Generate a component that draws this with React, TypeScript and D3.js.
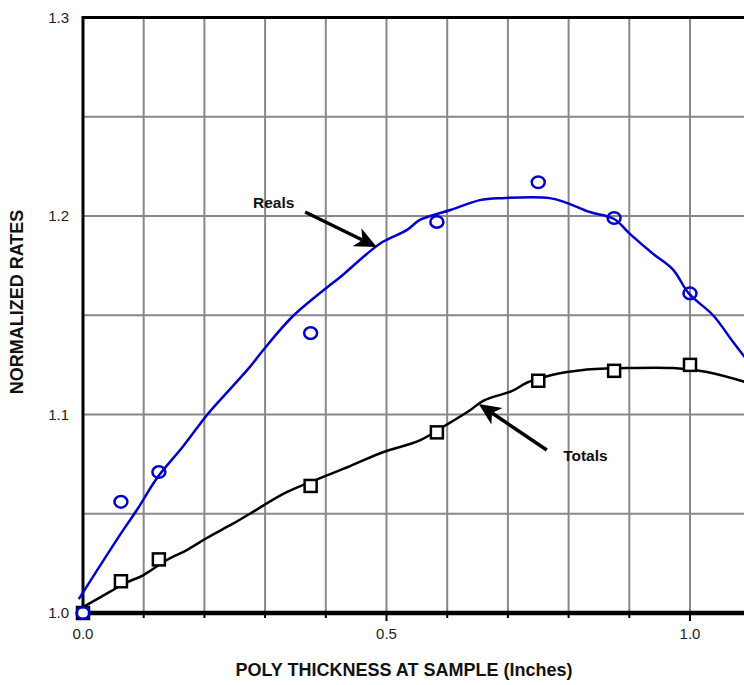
import React from "react";
import * as d3 from "d3";

const realsX = [0, 0.0625, 0.125, 0.375, 0.583, 0.75, 0.875, 1.0];
const realsY = [1.0, 1.056, 1.071, 1.141, 1.197, 1.217, 1.199, 1.161];
const totalsX = [0, 0.0625, 0.125, 0.375, 0.583, 0.75, 0.875, 1.0];
const totalsY = [1.0, 1.016, 1.027, 1.064, 1.091, 1.117, 1.122, 1.125];

const realsFitX = [-0.007, 0.058, 0.089, 0.122, 0.165, 0.205, 0.24, 0.275, 0.297, 0.344, 0.402, 0.423, 0.468, 0.494, 0.534, 0.555, 0.605, 0.654, 0.69, 0.769, 0.797, 0.835, 0.875, 0.901, 0.939, 0.972, 0.998, 1.038, 1.071, 1.095];
const realsFitY = [1.007, 1.038, 1.052, 1.068, 1.084, 1.1, 1.112, 1.124, 1.1325, 1.149, 1.164, 1.169, 1.181, 1.187, 1.193, 1.198, 1.203, 1.208, 1.209, 1.209, 1.2066, 1.202, 1.1985, 1.191, 1.181, 1.173, 1.161, 1.15, 1.1365, 1.127];
const totalsFitX = [0, 0.044, 0.069, 0.099, 0.138, 0.171, 0.204, 0.247, 0.275, 0.33, 0.375, 0.44, 0.494, 0.555, 0.6, 0.637, 0.66, 0.708, 0.731, 0.774, 0.824, 0.901, 0.972, 1.028, 1.095];
const totalsFitY = [1.003, 1.0106, 1.015, 1.019, 1.0267, 1.0317, 1.0378, 1.045, 1.05, 1.06, 1.066, 1.074, 1.081, 1.087, 1.095, 1.102, 1.107, 1.112, 1.116, 1.12, 1.1224, 1.1234, 1.1234, 1.1214, 1.116];

const xTickVals = [0, 0.5, 1.0];
const xTickLabels = ["0.0", "0.5", "1.0"];
const yTickVals = [1.0, 1.1, 1.2, 1.3];
const yTickLabels = ["1.0", "1.1", "1.2", "1.3"];
const xGrid = [0.1, 0.2, 0.3, 0.4, 0.5, 0.6, 0.7, 0.8, 0.9, 1.0];
const yGrid = [1.05, 1.1, 1.15, 1.2, 1.25];

const W = 744, H = 685;
const FONT = "'Liberation Sans', Arial, sans-serif";
const BLUE = "#0000cc";

export default function App() {
  const x = d3.scaleLinear().domain([0, 1]).range([83, 690]);
  const y = d3.scaleLinear().domain([1.0, 1.3]).range([613, 17.5]);
  const line = d3
    .line<[number, number]>()
    .x((d) => x(d[0]))
    .y((d) => y(d[1]))
    .curve(d3.curveCatmullRom.alpha(0.5));
  const realsPath = line(realsFitX.map((v, i) => [v, realsFitY[i]]) as [number, number][]) || "";
  const totalsPath = line(totalsFitX.map((v, i) => [v, totalsFitY[i]]) as [number, number][]) || "";

  const arrow = (x1: number, y1: number, x2: number, y2: number) => {
    const ax1 = x(x1), ay1 = y(y1), ax2 = x(x2), ay2 = y(y2);
    const ang = Math.atan2(ay2 - ay1, ax2 - ax1);
    const L = 22, Wd = 10;
    const bx = ax2 - L * Math.cos(ang), by = ay2 - L * Math.sin(ang);
    const px = -Math.sin(ang) * Wd, py = Math.cos(ang) * Wd;
    const nx = ax2 - (L - 6) * Math.cos(ang), ny = ay2 - (L - 6) * Math.sin(ang);
    return (
      <g>
        <line x1={ax1} y1={ay1} x2={nx} y2={ny} stroke="#000" strokeWidth={3.5} />
        <polygon
          points={`${ax2},${ay2} ${bx + px},${by + py} ${nx},${ny} ${bx - px},${by - py}`}
          fill="#000"
        />
      </g>
    );
  };

  return (
    <svg width={W} height={H} style={{ position: "absolute", left: 0, top: 0, background: "#fff" }} fontFamily={FONT}>
      <rect x={0} y={0} width={W} height={H} fill="#fff" />
      {xGrid.map((g) => (
        <line key={"xg" + g} x1={x(g)} x2={x(g)} y1={y(1.3)} y2={y(1.0)} stroke="#888" strokeWidth={2} />
      ))}
      {yGrid.map((g) => (
        <line key={"yg" + g} x1={x(0)} x2={W} y1={y(g)} y2={y(g)} stroke="#888" strokeWidth={2} />
      ))}
      {xGrid.map((g) => (
        <line key={"xt" + g} x1={x(g)} x2={x(g)} y1={y(1.0)} y2={y(1.0) + (g === 1.0 || g === 0.5 ? 8 : 5)} stroke="#000" strokeWidth={2} />
      ))}
      <line x1={x(0)} x2={W} y1={y(1.3)} y2={y(1.3)} stroke="#000" strokeWidth={3} />
      <line x1={x(0)} x2={x(0)} y1={y(1.3) - 1.5} y2={y(1.0) + 2} stroke="#000" strokeWidth={3} />
      <line x1={x(0)} x2={W} y1={y(1.0)} y2={y(1.0)} stroke="#000" strokeWidth={4.5} />
      {yTickVals.map((v, i) => (
        <text key={"yl" + v} x={69} y={y(v) + 5} textAnchor="end" fontSize={15} fill="#222">
          {yTickLabels[i]}
        </text>
      ))}
      {xTickVals.map((v, i) => (
        <text key={"xl" + v} x={x(v)} y={639} textAnchor="middle" fontSize={15} fill="#222">
          {xTickLabels[i]}
        </text>
      ))}
      <text x={404} y={676} textAnchor="middle" fontSize={18} fontWeight="bold" fill="#111">
        POLY THICKNESS AT SAMPLE (Inches)
      </text>
      <text
        transform={`translate(23,302) rotate(-90)`}
        textAnchor="middle"
        fontSize={18}
        fontWeight="bold"
        fill="#111"
      >
        NORMALIZED RATES
      </text>
      <path d={realsPath} fill="none" stroke={BLUE} strokeWidth={2.5} />
      <path d={totalsPath} fill="none" stroke="#000" strokeWidth={2.5} />
      {totalsX.map((v, i) => (
        <rect key={"sq" + i} x={x(v) - 6} y={y(totalsY[i]) - 6} width={12} height={12} fill="#fff" stroke="#000" strokeWidth={2.5} />
      ))}
      {realsX.map((v, i) => (
        <ellipse key={"c" + i} cx={x(v)} cy={y(realsY[i])} rx={6.5} ry={5.8} fill="none" stroke={BLUE} strokeWidth={2.5} />
      ))}
      <text x={x(0.28)} y={y(1.204)} fontSize={15.5} fontWeight="bold" fill="#111">Reals</text>
      {arrow(0.366, 1.202, 0.484, 1.1844)}
      <text x={x(0.791)} y={y(1.0766)} fontSize={15.5} fontWeight="bold" fill="#111">Totals</text>
      {arrow(0.764, 1.0821, 0.652, 1.1053)}
    </svg>
  );
}
